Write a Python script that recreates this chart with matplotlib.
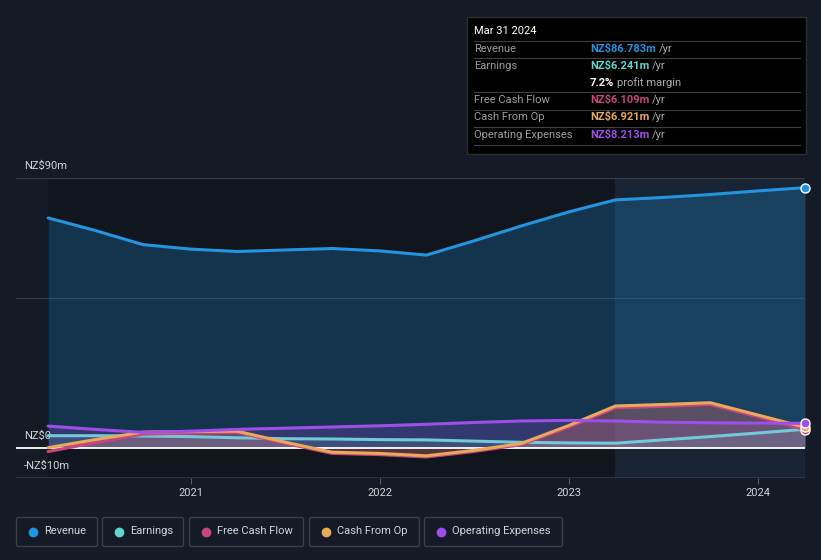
import matplotlib
matplotlib.use('Agg')
import matplotlib.pyplot as plt
import matplotlib.dates as mdates
import pandas as pd
from matplotlib.patches import Rectangle, FancyBboxPatch
from matplotlib.transforms import offset_copy

plt.rcParams['font.family'] = ['Roboto', 'DejaVu Sans']

# ---------------- data (NZ$ m, trailing twelve months) ----------------
dates = ['2020-03-31', '2020-06-30', '2020-09-30', '2020-12-31',
         '2021-03-31', '2021-06-30', '2021-09-30', '2021-12-31',
         '2022-03-31', '2022-06-30', '2022-09-30', '2022-12-31',
         '2023-03-31', '2023-06-30', '2023-09-30', '2023-12-31',
         '2024-03-31']
revenue = [76.7, 72.5, 67.8, 66.3, 65.5, 66.0, 66.5, 65.7, 64.3, 69.0,
           74.0, 78.7, 82.7, 83.5, 84.5, 85.7, 86.783]
earnings = [4.1, 4.1, 4.0, 3.8, 3.4, 3.1, 3.0, 2.8, 2.7, 2.3,
            1.9, 1.7, 1.6, 2.7, 3.8, 5.0, 6.241]
free_cash_flow = [-1.2, 1.8, 4.6, 5.0, 5.2, 1.6, -1.8, -2.2, -3.0, -1.2,
                  1.1, 7.0, 13.4, 13.9, 14.5, 10.4, 6.109]
cash_from_op = [0.1, 2.8, 5.3, 5.5, 5.6, 2.0, -1.4, -1.8, -2.6, -0.8,
                1.5, 7.5, 14.0, 14.5, 15.1, 11.0, 6.921]
operating_expenses = [7.3, 6.2, 5.2, 5.6, 6.2, 6.6, 7.0, 7.4, 7.9, 8.5,
                      9.0, 9.2, 9.0, 8.6, 8.4, 8.3, 8.213]

y_ticks = [90, 0, -10]
y_tick_labels = ['NZ$90m', 'NZ$0', '-NZ$10m']
mid_grid = 50

series_names = ['Revenue', 'Earnings', 'Free Cash Flow', 'Cash From Op', 'Operating Expenses']
tooltip_date = 'Mar 31 2024'
tooltip_values = ['NZ$86.783m', 'NZ$6.241m', 'NZ$6.109m', 'NZ$6.921m', 'NZ$8.213m']
profit_margin = '7.2%'

# ---------------- style ----------------
bg = '#151b26'
past_bg = '#10151e'
future_bg = '#162433'
c_rev = '#2394df'
c_earn = '#5fd6cc'
c_earn_line = '#72c9d8'
c_fcf = '#c9457f'
c_cfo = '#e8a95a'
c_opex = '#a04ee8'
grid_c = '#363c47'
text_c = '#d2d4d8'

W, H = 821, 560
fig = plt.figure(figsize=(W / 100, H / 100), dpi=100, facecolor=bg)
ax = fig.add_axes([16 / W, 82 / H, 789 / W, 300 / H])
ax.set_facecolor(bg)

x = pd.to_datetime(dates)
x_start = x[0] - pd.Timedelta(days=62)
ax.set_xlim(x_start, x[-1])
ax.set_ylim(-10, 90)
for s in ax.spines.values():
    s.set_visible(False)

split = x[-5]
ax.axvspan(x[0], split, color=past_bg, zorder=0, lw=0)
ax.axvspan(split, x[-1], color=future_bg, zorder=0, lw=0)

ax.axhline(90, color=grid_c, lw=0.9, zorder=1)
ax.axhline(mid_grid, color=grid_c, lw=0.7, zorder=1)
ax.axhline(-10, color=grid_c, lw=1.2, zorder=1)

# fills
ax.fill_between(x, 0, revenue, color=c_rev, alpha=0.25, lw=0, zorder=1.5)
ax.fill_between(x, 0, operating_expenses, color=c_opex, alpha=0.22, lw=0, zorder=1.6)
ax.fill_between(x, 0, cash_from_op, color=c_cfo, alpha=0.18, lw=0, zorder=1.6)
ax.fill_between(x, 0, free_cash_flow, color=c_fcf, alpha=0.2, lw=0, zorder=1.6)
ax.fill_between(x, 0, earnings, color=c_earn_line, alpha=0.15, lw=0, zorder=1.6)

ax.axhline(0, color='white', lw=1.3, zorder=3)

kw = dict(lw=2.2, solid_capstyle='round', solid_joinstyle='round', zorder=4)
ax.plot(x, revenue, color=c_rev, **kw)
ax.plot(x, earnings, color=c_earn_line, **kw)
ax.plot(x, free_cash_flow, color=c_fcf, **kw)
ax.plot(x, cash_from_op, color=c_cfo, **kw)
ax.plot(x, operating_expenses, color=c_opex, **kw)

# end markers
for vals, col in [(free_cash_flow, c_fcf), (cash_from_op, c_cfo),
                  (operating_expenses, c_opex), (revenue, c_rev)]:
    ax.plot([x[-1]], [vals[-1]], 'o', ms=6.5, mfc=col, mec='white', mew=1.0,
            zorder=6, clip_on=False)

# y labels
for v, t in zip(y_ticks, y_tick_labels):
    ax.text(x_start + pd.Timedelta(days=15), v, t, color=text_c, fontsize=8,
            va='center', ha='left',
            transform=offset_copy(ax.transData, fig=fig, x=0, y=12, units='dots'))

ax.set_yticks([])
ax.xaxis.set_major_locator(mdates.YearLocator())
ax.xaxis.set_major_formatter(mdates.DateFormatter('%Y'))
ax.tick_params(axis='x', length=4, width=0.8, color='#555b66', labelcolor=text_c,
               labelsize=8, pad=3)

# ---------------- overlay in pixel coords ----------------
ov = fig.add_axes([0, 0, 1, 1], facecolor='none')
ov.set_xlim(0, W)
ov.set_ylim(H, 0)
ov.axis('off')

# tooltip
ov.add_patch(Rectangle((466.5, 16.5), 339, 137, facecolor='#000000',
                       edgecolor='#2a2d33', lw=1, zorder=1))
ov.text(474, 31, tooltip_date, color='white', fontsize=8, va='center', ha='left', zorder=2)
for yy in [41, 58, 92, 109.5, 126.5, 144.5]:
    ov.plot([474, 800], [yy, yy], color='#3c3f45', lw=0.8, zorder=2)

rows_y = [49, 66, 100, 117, 135]
cols = [c_rev, c_earn, c_fcf, c_cfo, c_opex]
fs = 8
fig.canvas.draw()
r = fig.canvas.get_renderer()
for name, val, col, yy in zip(series_names, tooltip_values, cols, rows_y):
    ov.text(474, yy, name, color='#9a9ca0', fontsize=fs, va='center', ha='left', zorder=2)
    t = ov.text(590, yy, val, color=col, fontsize=fs, fontweight='bold',
                va='center', ha='left', zorder=2)
    bb = t.get_window_extent(renderer=r)
    ov.text(bb.x1 + 3, H - yy, '/yr', color='#a8aaae', fontsize=fs, va='center',
            ha='left', zorder=2, transform=None)
t = ov.text(590, 83, profit_margin, color='white', fontsize=fs, fontweight='bold',
            va='center', ha='left', zorder=2)
bb = t.get_window_extent(renderer=r)
ov.text(bb.x1 + 3, H - 83, 'profit margin', color='#a8aaae', fontsize=fs,
        va='center', ha='left', zorder=2, transform=None)

# legend
boxes = [(16, 98), (102, 184), (189, 304), (309, 420), (424, 563)]
leg_cols = [c_rev, c_earn, c_fcf, c_cfo, c_opex]
for (x0, x1), name, col in zip(boxes, series_names, leg_cols):
    ov.add_patch(FancyBboxPatch((x0 + 0.5, 517.5), x1 - x0 - 1, 29,
                                boxstyle='round,pad=0,rounding_size=2',
                                facecolor=bg, edgecolor='#3a3f48', lw=1))
    ov.plot([x0 + 17], [531.5], 'o', ms=6, color=col)
    ov.text(x0 + 28, 531.5, name, color=text_c, fontsize=8, va='center', ha='left')

fig.savefig('out.png', dpi=100, facecolor=bg)
